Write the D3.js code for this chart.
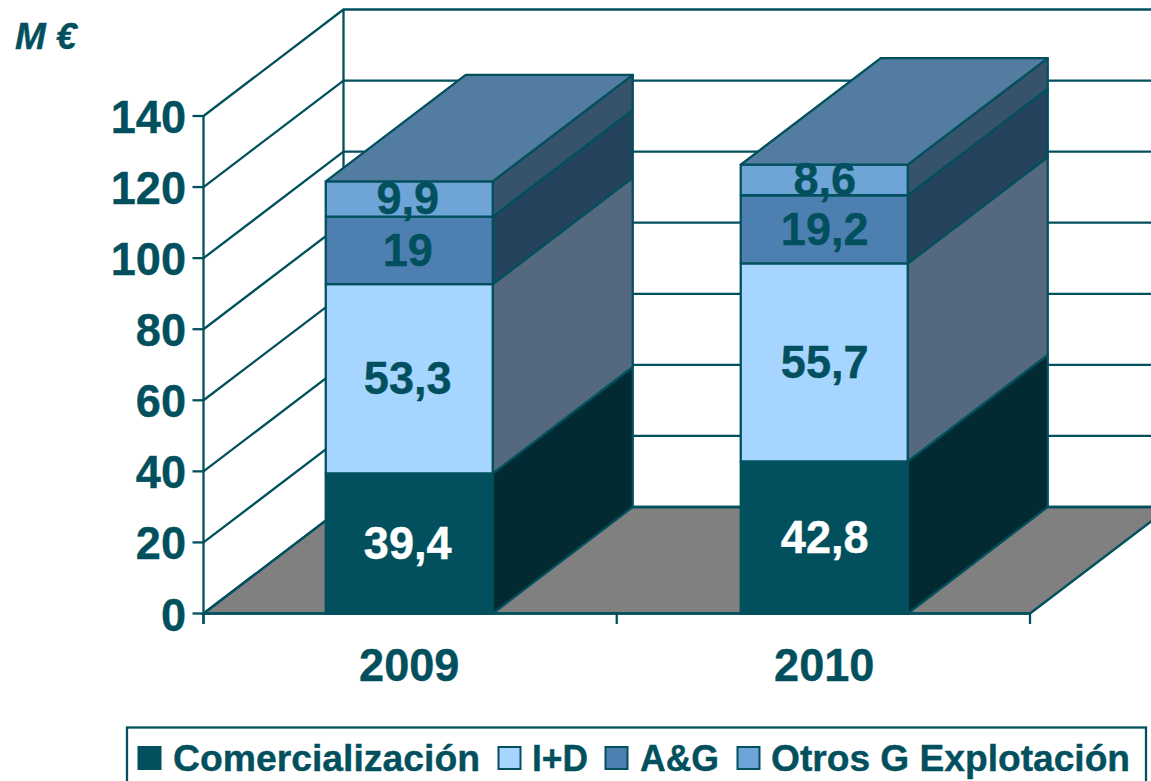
<!DOCTYPE html>
<html>
<head>
<meta charset="utf-8">
<script src="https://cdn.jsdelivr.net/npm/d3@7/dist/d3.min.js"></script>
<style>
html,body{margin:0;padding:0;background:#fff;overflow:hidden}
svg{display:block}
text{font-family:"Liberation Sans",Arial,sans-serif;font-weight:bold}
</style>
</head>
<body>
<svg id="chart" width="1151" height="781"></svg>
<script>
const categories = ["2009", "2010"];
const seriesNames = ["Comercialización", "I+D", "A&G", "Otros G Explotación"];
const comercializacion = [39.4, 42.8];
const imasD = [53.3, 55.7];
const ayG = [19, 19.2];
const otros = [9.9, 8.6];
const valueLabels = [["39,4","42,8"],["53,3","55,7"],["19","19,2"],["9,9","8,6"]];
const yTicks = [0, 20, 40, 60, 80, 100, 120, 140];
const frontColors = ["#02505e", "#a6d5ff", "#4d80b0", "#6fa5d6"];
const sideColors = ["#012a32", "#54697e", "#25435c", "#37536b"];
const topColor = "#527ca0";
const floorColor = "#808080";
const ink = "#02505e";
const allSeries = [comercializacion, imasD, ayG, otros];

const svg = d3.select("#chart");
const lw = 2.3;
const depthX = 140, depthY = -106.5;
const x = d3.scaleBand().domain(categories).range([203.5, 1030]).paddingInner(0.5976).paddingOuter(0.2946);
const y = d3.scaleLinear().domain([0, 140]).range([613.5, 116]);
const line = d3.line();
const poly = pts => line(pts) + "Z";

// text drawn slightly condensed, as in the reference
function label(px, py, str, fill, anchor) {
  svg.append("text")
    .attr("transform", `translate(${px},${py}) scale(0.96,1)`)
    .attr("text-anchor", anchor).attr("font-size", 47)
    .attr("fill", fill).attr("stroke", fill).attr("stroke-width", 0.4).text(str);
}

// floor
svg.append("path")
  .attr("d", poly([[x.range()[0], y(0)], [x.range()[0]+depthX, y(0)+depthY], [x.range()[1]+depthX, y(0)+depthY], [x.range()[1], y(0)]]))
  .attr("fill", floorColor).attr("stroke", ink).attr("stroke-width", lw);

// walls and gridlines
const x0 = x.range()[0], x1 = x.range()[1];
const grid = svg.append("g").attr("fill", "none").attr("stroke", ink).attr("stroke-width", lw);
grid.selectAll("path.g").data(yTicks).join("path").attr("class", "g")
  .attr("d", t => line([[x0, y(t)], [x0+depthX, y(t)+depthY], [x1+depthX, y(t)+depthY]]));
grid.append("line").attr("x1", x0+depthX).attr("x2", x0+depthX).attr("y1", y(140)+depthY).attr("y2", y(0)+depthY);

// axes
const axisG = svg.append("g").attr("stroke", ink).attr("stroke-width", lw);
axisG.append("line").attr("x1", x0).attr("x2", x0).attr("y1", y(140)).attr("y2", 624);
axisG.selectAll("line.t").data(yTicks).join("line").attr("class", "t")
  .attr("x1", x0-11).attr("x2", x0).attr("y1", t => y(t)).attr("y2", t => y(t));
yTicks.forEach(t => label(186, y(t)+17, t, ink, "end"));

// bars
categories.forEach((c, i) => {
  const left = x(c), right = left + x.bandwidth();
  const g = svg.append("g").attr("stroke", ink).attr("stroke-width", lw).attr("stroke-linejoin", "round");
  let acc = 0;
  const segs = allSeries.map((s, k) => { const a = acc; acc += s[i]; return {k, a, b: acc}; });
  segs.forEach(d => {
    g.append("path")
      .attr("d", poly([[right, y(d.a)], [right+depthX, y(d.a)+depthY], [right+depthX, y(d.b)+depthY], [right, y(d.b)]]))
      .attr("fill", sideColors[d.k]);
    g.append("path")
      .attr("d", poly([[left, y(d.a)], [right, y(d.a)], [right, y(d.b)], [left, y(d.b)]]))
      .attr("fill", frontColors[d.k]);
  });
  g.append("path")
    .attr("d", poly([[left, y(acc)], [right, y(acc)], [right+depthX, y(acc)+depthY], [left+depthX, y(acc)+depthY]]))
    .attr("fill", topColor);
  segs.forEach(d => {
    label((left+right)/2 + (i === 0 ? -1.5 : 0.5), (y(d.a)+y(d.b))/2 + 15.5, valueLabels[d.k][i], d.k === 0 ? "#ffffff" : ink, "middle");
  });
});

// front baseline on top
svg.append("line").attr("x1", x0).attr("x2", x1).attr("y1", y(0)).attr("y2", y(0)).attr("stroke", ink).attr("stroke-width", lw);
const xTicks = [x0, (x0+x1)/2, x1];
svg.selectAll("line.xt").data(xTicks).join("line").attr("class", "xt")
  .attr("x1", d => d).attr("x2", d => d).attr("y1", y(0)).attr("y2", 624).attr("stroke", ink).attr("stroke-width", lw);
categories.forEach(c => label(x(c)+x.bandwidth()/2, 680.5, c, ink, "middle"));

// unit label
svg.append("text").attr("x", 15).attr("y", 49).attr("font-size", 37).attr("font-style", "italic").attr("fill", ink).attr("stroke", ink).attr("stroke-width", 0.4).text("M €");

// legend
svg.append("rect").attr("x", 127).attr("y", 727.5).attr("width", 1019).attr("height", 70).attr("fill", "#fff").attr("stroke", ink).attr("stroke-width", lw);
const swatchX = [138, 498, 605, 737];
const textX = [173, 532, 640, 771];
const textW = [307, 56, 79, 359];
seriesNames.forEach((n, k) => {
  svg.append("rect").attr("x", swatchX[k]+0.5).attr("y", 747).attr("width", 22).attr("height", 22)
    .attr("fill", frontColors[k]).attr("stroke", ink).attr("stroke-width", 2);
  svg.append("text").attr("x", textX[k]).attr("y", 771).attr("font-size", 37)
    .attr("textLength", textW[k]).attr("lengthAdjust", "spacingAndGlyphs")
    .attr("fill", ink).attr("stroke", ink).attr("stroke-width", 0.4).text(n);
});
</script>
</body>
</html>
